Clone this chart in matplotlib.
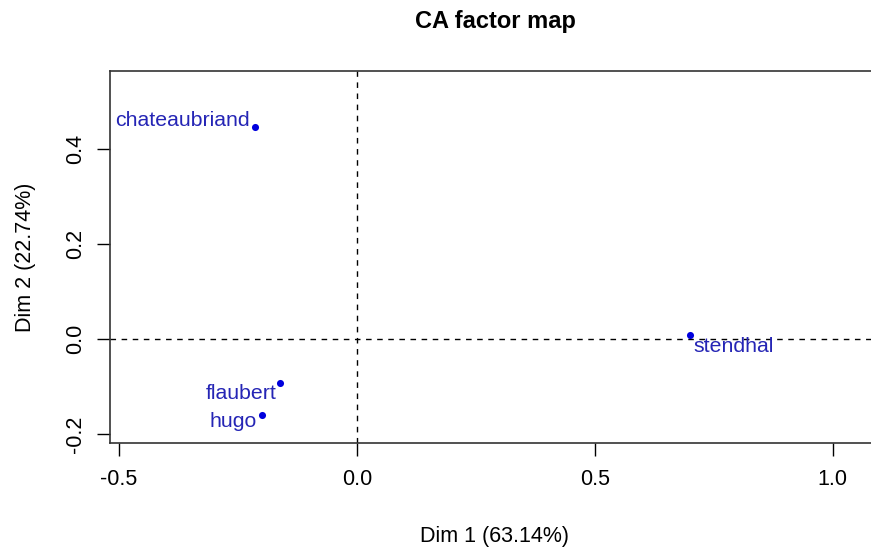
import matplotlib
matplotlib.use('Agg')
import matplotlib.pyplot as plt

# CA row coordinates (authors)
authors = ['chateaubriand', 'flaubert', 'hugo', 'stendhal']
dim1 = [-0.214, -0.162, -0.200, 0.700]
dim2 = [0.446, -0.093, -0.160, 0.008]

x_ticks = [-0.5, 0.0, 0.5, 1.0]
y_ticks = [-0.2, 0.0, 0.2, 0.4]

plt.rcParams['font.family'] = ['Liberation Sans', 'DejaVu Sans']


def main():
    fig = plt.figure(figsize=(8.71, 5.49), dpi=100)
    # the right edge of the box is cut off in the original, so let the axes run past the figure
    ax = fig.add_axes([0.1263, 0.1931, 0.884, 0.6776])

    ax.axhline(0, color='black', linestyle=(0, (4, 4)), linewidth=1)
    ax.axvline(0, color='black', linestyle=(0, (4, 4)), linewidth=1)

    ax.scatter(dim1, dim2, s=26, color='#0000dd', zorder=3, linewidths=0)

    # label placement: (ha, dx px, dy px)
    place = [('right', -5, 7), ('right', -3, -10), ('right', -5, -7), ('left', 3, -11)]
    for name, x, y, (ha, dx, dy) in zip(authors, dim1, dim2, place):
        ax.annotate(name, (x, y), xytext=(dx * 0.72, dy * 0.72), textcoords='offset points',
                    ha=ha, va='center', fontsize=15.3, color='#2525b5')

    ax.set_xlim(-0.519, 1.099)
    ax.set_ylim(-0.219, 0.564)
    ax.set_xticks(x_ticks)
    ax.set_yticks(y_ticks)
    ax.set_xticklabels(['-0.5', '0.0', '0.5', '1.0'])
    ax.set_yticklabels(['-0.2', '0.0', '0.2', '0.4'], rotation=90, va='center')
    ax.tick_params(direction='out', length=9.4, width=1, labelsize=15.5, colors='black')
    ax.tick_params(axis='x', pad=9)
    ax.tick_params(axis='y', pad=8)
    for s in ax.spines.values():
        s.set_color('#333333')
        s.set_linewidth(1.2)

    ax.set_xlabel('Dim 1 (63.14%)', fontsize=15.5, labelpad=26)
    ax.set_ylabel('Dim 2 (22.74%)', fontsize=15.5, labelpad=21)
    fig.text(0.569, 0.96, 'CA factor map', ha='center', va='center',
             fontsize=17, fontweight='bold')

    fig.savefig('out.png', dpi=100)


if __name__ == '__main__':
    main()
